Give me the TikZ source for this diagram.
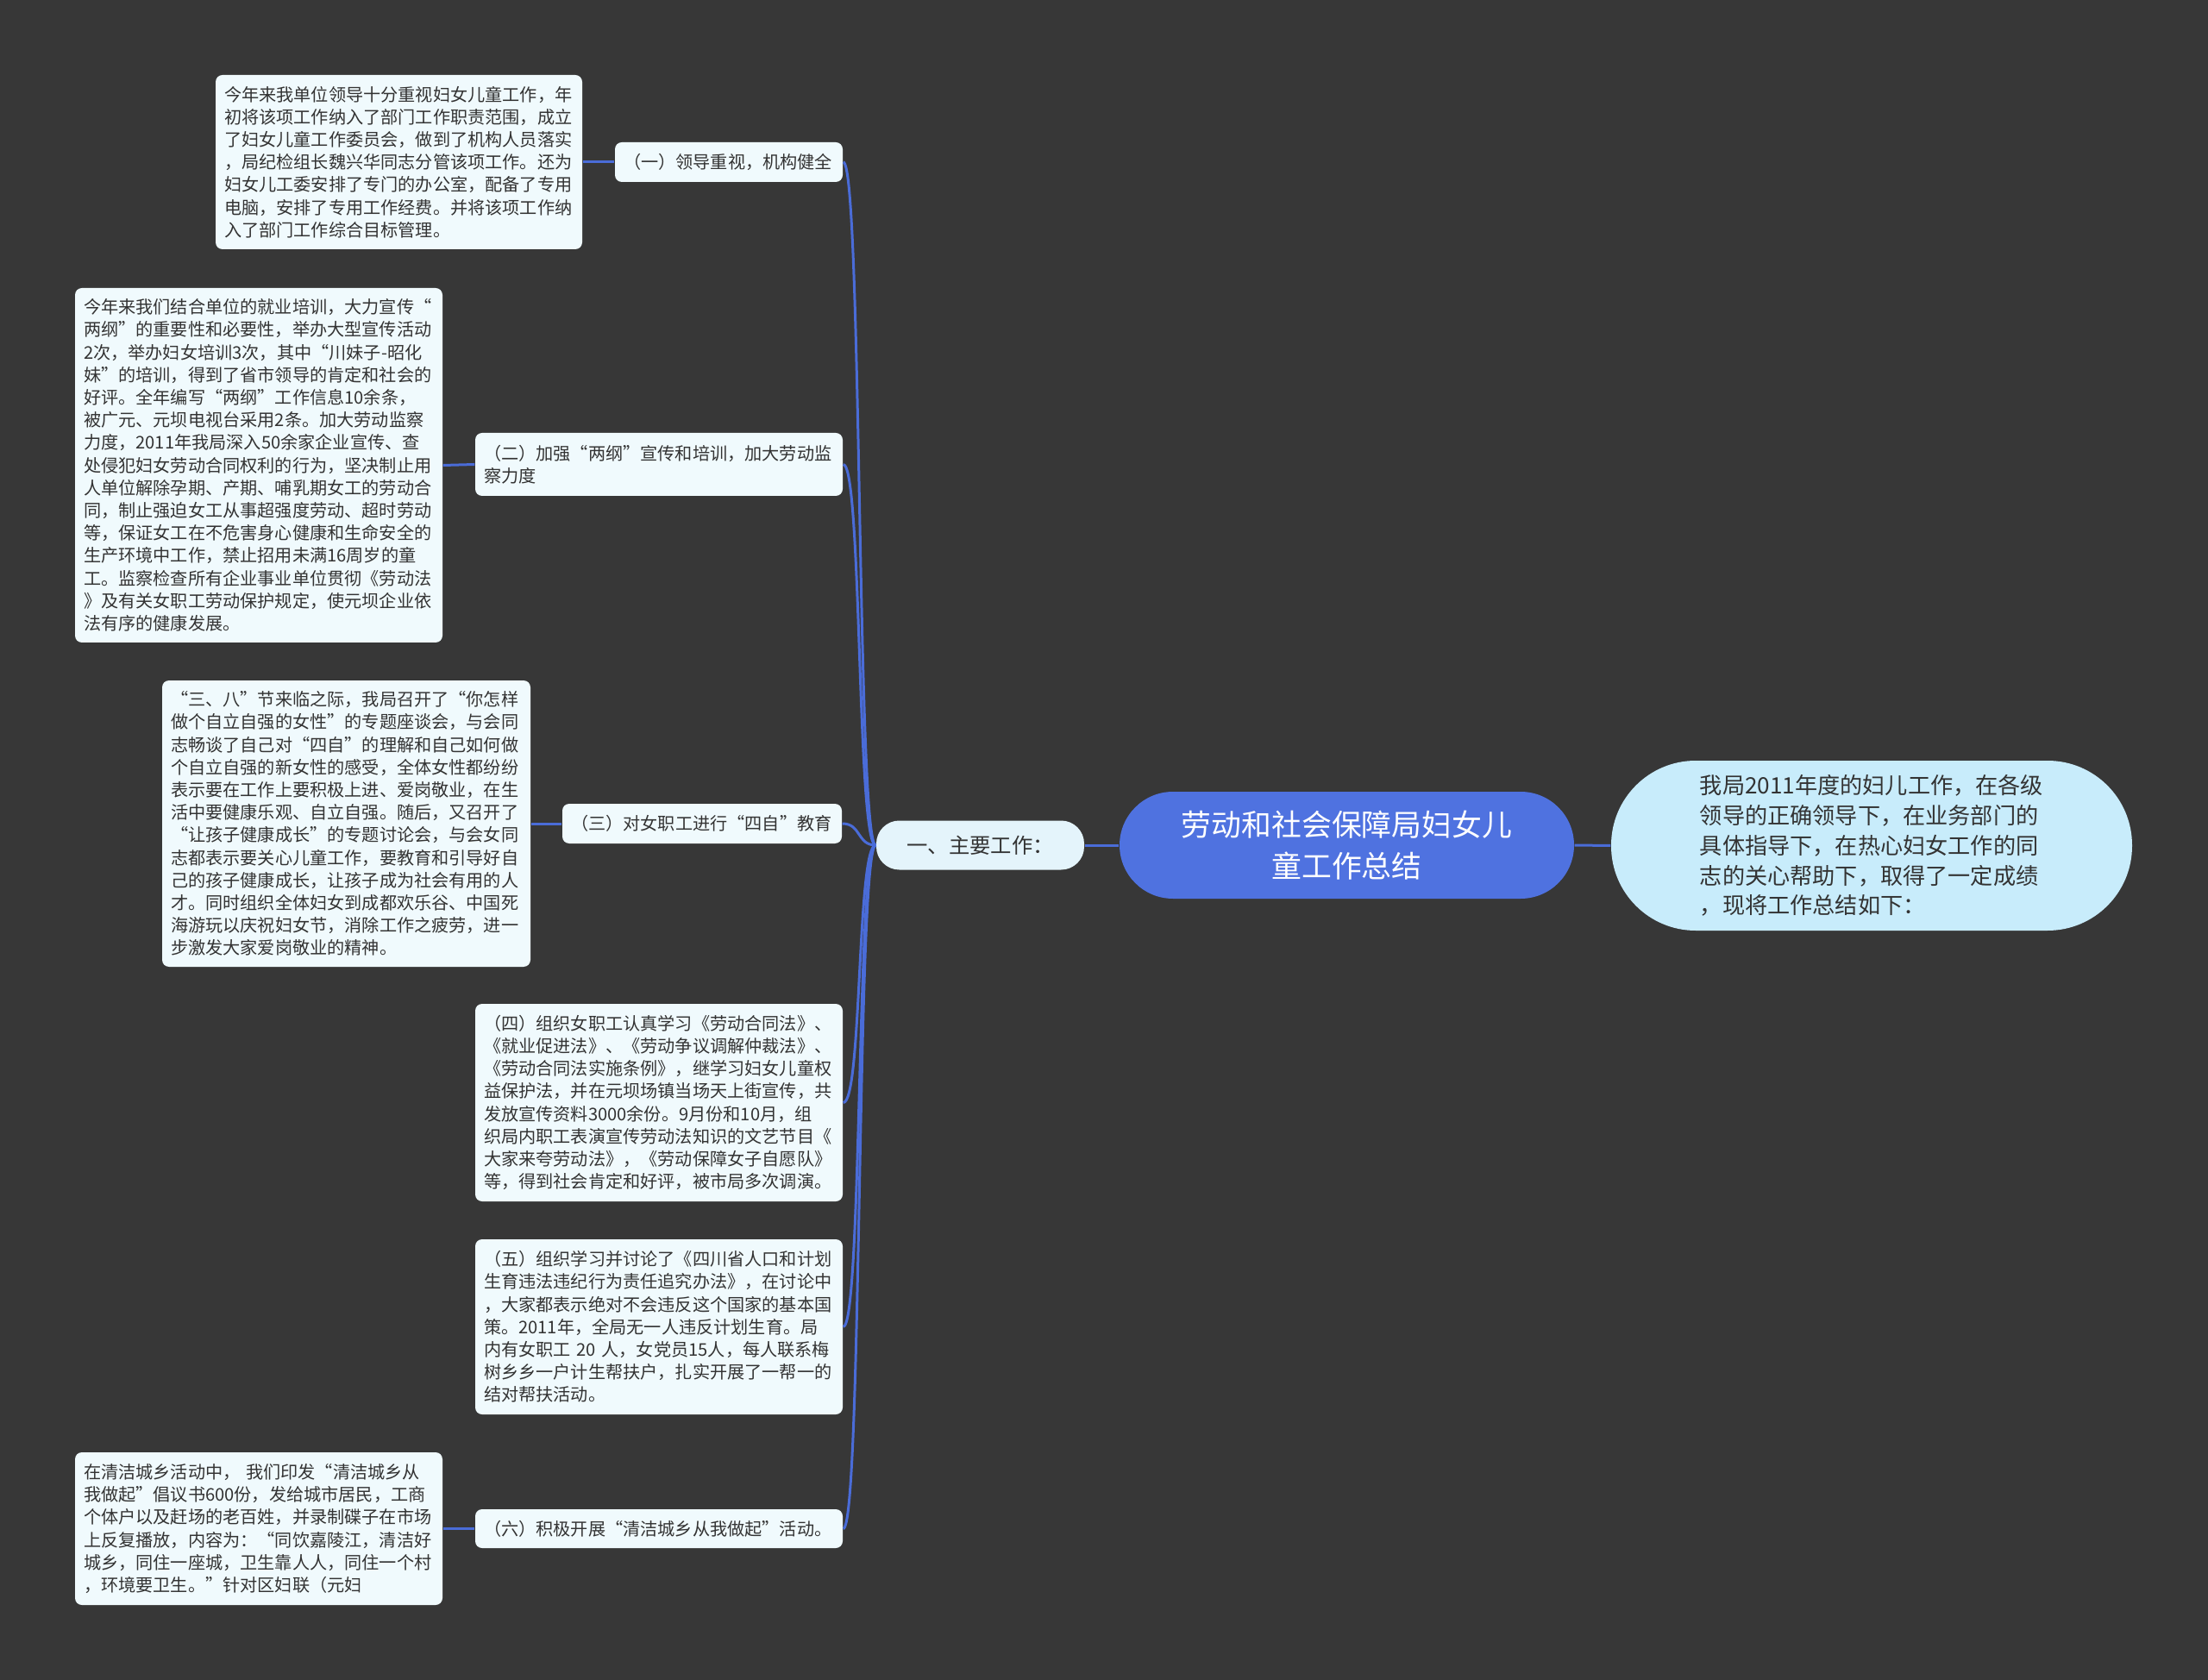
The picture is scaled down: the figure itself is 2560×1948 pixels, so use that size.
\documentclass[tikz,border=0pt]{standalone}
\usepackage{fontspec}
\setmainfont{Noto Sans CJK SC}
\definecolor{bg}{HTML}{373737}
\definecolor{conncol}{HTML}{4A6CD8}
\definecolor{leafcol}{HTML}{F0FAFD}
\definecolor{rootcol}{HTML}{4F72E0}
\definecolor{sumcol}{HTML}{C8ECFB}
\definecolor{maincol}{HTML}{E4F4FB}
\definecolor{txtcol}{HTML}{333333}
\tikzset{
  conn/.style={draw=conncol, line width=0.9pt},
  leafbox/.style={fill=leafcol, rounded corners=2.4pt, text=txtcol, inner xsep=3pt, inner ysep=0pt,
    align=left, font=\fontsize{6.05pt}{7.86pt}\selectfont},
}
\begin{document}
\begin{tikzpicture}[x=0.3pt,y=-0.3pt]
\fill[bg] (0,0) rectangle (2560,1948);

% root and summary
\node[fill=rootcol, rounded corners=18.6pt, minimum width=158.1pt, minimum height=37.2pt, inner sep=0pt,
  text=white, align=center, font=\fontsize{10.45pt}{14.4pt}\selectfont] (root) at (1561.5,980)
  {劳动和社会保障局妇女儿\\童工作总结};
\node[fill=sumcol, rounded corners=29.4pt, minimum width=181.2pt, minimum height=59.1pt, inner sep=0pt,
  text=txtcol, align=left, font=\fontsize{7.85pt}{10.45pt}\selectfont] (sum) at (2170,980.5)
  {我局2011年度的妇儿工作，在各级\\领导的正确领导下，在业务部门的\\具体指导下，在热心妇女工作的同\\志的关心帮助下，取得了一定成绩\\，现将工作总结如下：};
\node[fill=maincol, rounded corners=8pt, minimum width=72.3pt, minimum height=17.1pt, inner sep=0pt,
  text=txtcol, font=\fontsize{7.3pt}{9pt}\selectfont] (main) at (1136.5,980) {一、主要工作：};

% branches
\node[leafbox, text width=73.2pt, minimum height=13.8pt] (b1) at (845,188) {（一）领导重视，机构健全};
\node[leafbox, text width=121.8pt, minimum height=21.9pt] (b2) at (764,538.5) {（二）加强“两纲”宣传和培训，加大劳动监\\察力度};
\node[leafbox, text width=91.2pt, minimum height=13.8pt] (b3) at (814,955) {（三）对女职工进行“四自”教育};
\node[leafbox, text width=121.8pt, minimum height=68.7pt] (b4) at (764,1278.5) {（四）组织女职工认真学习《劳动合同法》、\\
《就业促进法》、《劳动争议调解仲裁法》、\\
《劳动合同法实施条例》，继学习妇女儿童权\\
益保护法，并在元坝场镇当场天上街宣传，共\\
发放宣传资料3000余份。9月份和10月，组\\
织局内职工表演宣传劳动法知识的文艺节目《\\
大家来夸劳动法》，《劳动保障女子自愿队》\\
等，得到社会肯定和好评，被市局多次调演。};
\node[leafbox, text width=121.8pt, minimum height=60.9pt] (b5) at (764,1538.5) {（五）组织学习并讨论了《四川省人口和计划\\
生育违法违纪行为责任追究办法》，在讨论中\\
，大家都表示绝对不会违反这个国家的基本国\\
策。2011年，全局无一人违反计划生育。局\\
内有女职工~20~人，女党员15人，每人联系梅\\
树乡乡一户计生帮扶户，扎实开展了一帮一的\\
结对帮扶活动。};
\node[leafbox, text width=121.8pt, minimum height=13.5pt] (b6) at (764,1772.5) {（六）积极开展“清洁城乡从我做起”活动。};

% leaves
\node[leafbox, text width=121.5pt, minimum height=60.6pt] (l1) at (462.5,188) {今年来我单位领导十分重视妇女儿童工作，年\\
初将该项工作纳入了部门工作职责范围，成立\\
了妇女儿童工作委员会，做到了机构人员落实\\
，局纪检组长魏兴华同志分管该项工作。还为\\
妇女儿工委安排了专门的办公室，配备了专用\\
电脑，安排了专用工作经费。并将该项工作纳\\
入了部门工作综合目标管理。};
\node[leafbox, text width=121.8pt, minimum height=123.3pt] (l2) at (300,539.5) {今年来我们结合单位的就业培训，大力宣传“\\
两纲”的重要性和必要性，举办大型宣传活动\\
2次，举办妇女培训3次，其中“川妹子-昭化\\
妹”的培训，得到了省市领导的肯定和社会的\\
好评。全年编写“两纲”工作信息10余条，\\
被广元、元坝电视台采用2条。加大劳动监察\\
力度，2011年我局深入50余家企业宣传、查\\
处侵犯妇女劳动合同权利的行为，坚决制止用\\
人单位解除孕期、产期、哺乳期女工的劳动合\\
同，制止强迫女工从事超强度劳动、超时劳动\\
等，保证女工在不危害身心健康和生命安全的\\
生产环境中工作，禁止招用未满16周岁的童\\
工。监察检查所有企业事业单位贯彻《劳动法\\
》及有关女职工劳动保护规定，使元坝企业依\\
法有序的健康发展。};
\node[leafbox, text width=122.1pt, minimum height=99.6pt] (l3) at (401.5,955) {“三、八”节来临之际，我局召开了“你怎样\\
做个自立自强的女性”的专题座谈会，与会同\\
志畅谈了自己对“四自”的理解和自己如何做\\
个自立自强的新女性的感受，全体女性都纷纷\\
表示要在工作上要积极上进、爱岗敬业，在生\\
活中要健康乐观、自立自强。随后，又召开了\\
“让孩子健康成长”的专题讨论会，与会女同\\
志都表示要关心儿童工作，要教育和引导好自\\
己的孩子健康成长，让孩子成为社会有用的人\\
才。同时组织全体妇女到成都欢乐谷、中国死\\
海游玩以庆祝妇女节，消除工作之疲劳，进一\\
步激发大家爱岗敬业的精神。};
\node[leafbox, text width=121.8pt, minimum height=53.1pt] (l6) at (300,1772.5) {在清洁城乡活动中，~我们印发“清洁城乡从\\
我做起”倡议书600份，发给城市居民，工商\\
个体户以及赶场的老百姓，并录制碟子在市场\\
上反复播放，内容为：“同饮嘉陵江，清洁好\\
城乡，同住一座城，卫生靠人人，同住一个村\\
，环境要卫生。”针对区妇联（元妇};

% connectors
\draw[conn] (root.east) -- (sum.west);
\draw[conn] (root.west) -- (main.east);
\foreach \b in {b1,b2,b3,b4,b5,b6}{
  \draw[conn] (\b.east) .. controls +(22,0) and +(-22,0) .. (main.west);
}
\draw[conn] (b1.west) -- (l1.east);
\draw[conn] (b2.west) -- (l2.east);
\draw[conn] (b3.west) -- (l3.east);
\draw[conn] (b6.west) -- (l6.east);
\end{tikzpicture}
\end{document}
